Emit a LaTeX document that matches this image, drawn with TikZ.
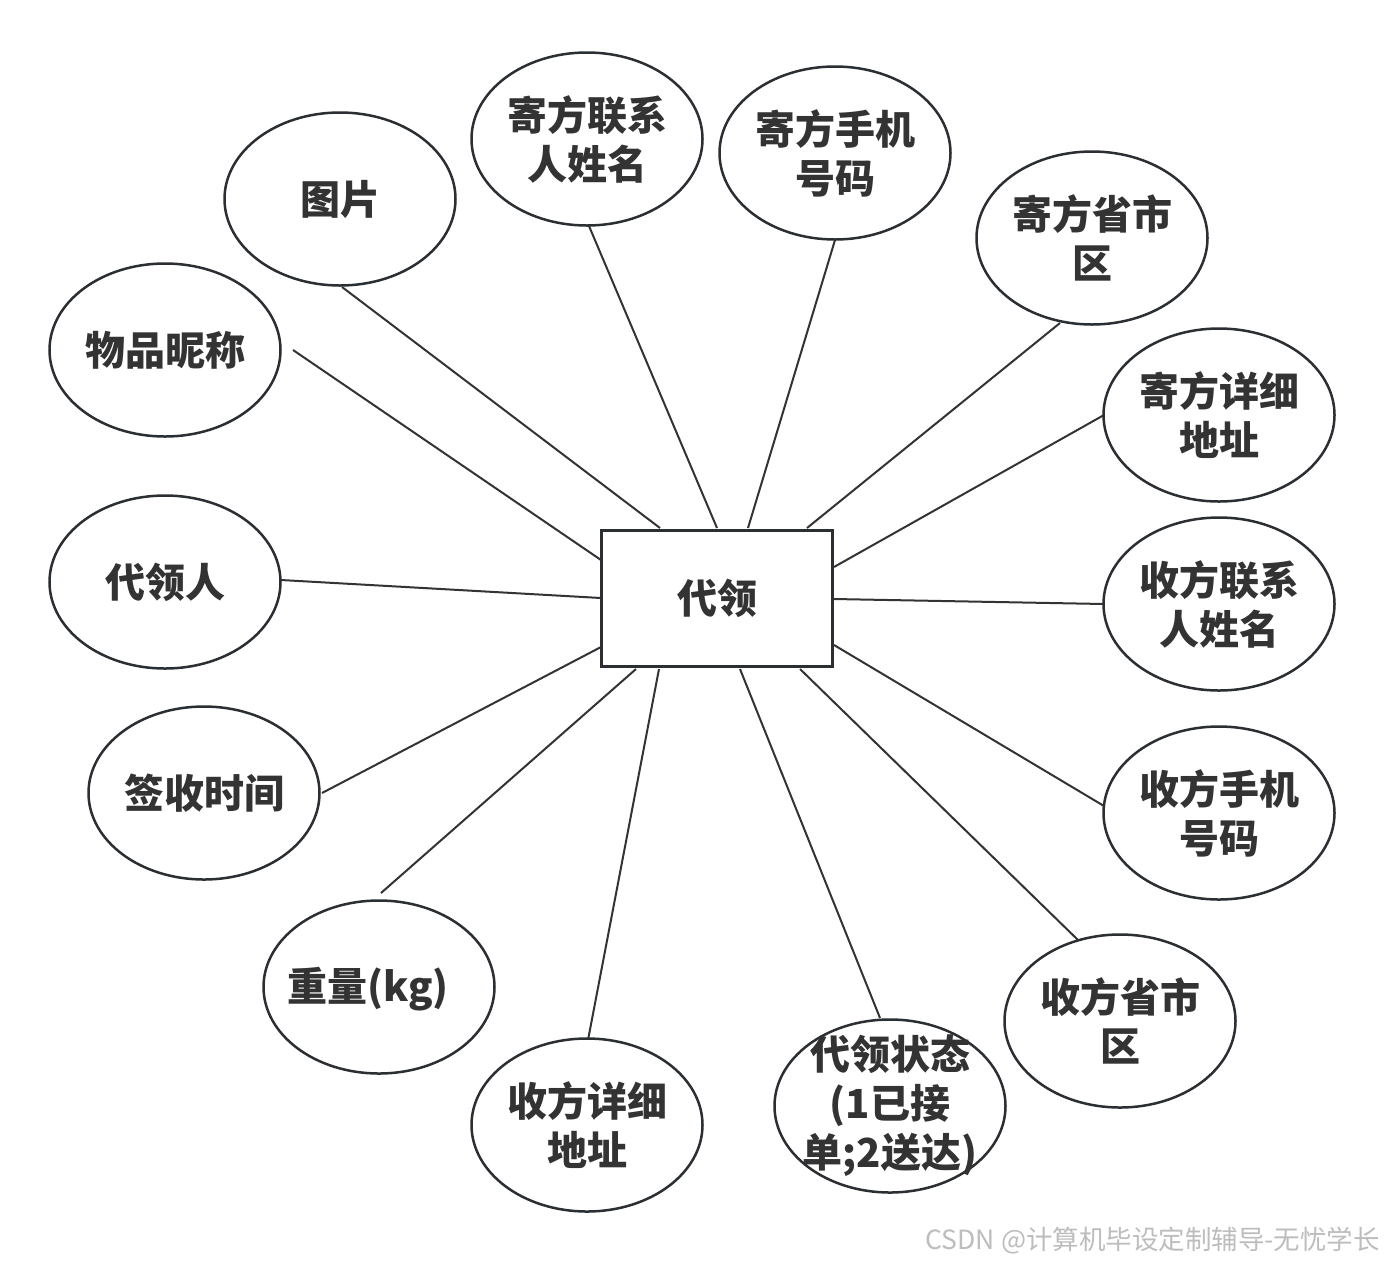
\documentclass[tikz,border=0pt]{standalone}
\usepackage{fontspec}
\usetikzlibrary{shapes.geometric}
\newfontfamily\cjk{Noto Sans CJK SC}
\definecolor{ink}{HTML}{333333}
\definecolor{edge}{HTML}{2B2F33}
\definecolor{wm}{HTML}{BDBDBD}
\tikzset{
  attr/.style={ellipse, draw=edge, line width=2.5pt, fill=white, minimum width=231pt, minimum height=173pt, inner sep=0pt},
  lbl/.style={font=\cjk\bfseries\fontsize{40}{49}\selectfont, text=ink, align=center, inner sep=0pt},
  ent/.style={rectangle, draw=edge, line width=3pt, fill=white, minimum width=231pt, minimum height=136pt, inner sep=0pt},
  conn/.style={draw=ink, line width=2pt}
}
\begin{document}
\begin{tikzpicture}[x=1pt,y=-1pt]
\useasboundingbox[fill=white] (0,0) rectangle (1386,1264);
% connector endpoints
\coordinate (e1) at (342,287);   \coordinate (r1) at (660,528);
\coordinate (e2) at (589,226);   \coordinate (r2) at (717,528);
\coordinate (e3) at (835,240);   \coordinate (r3) at (748,528);
\coordinate (e4) at (1060,323);  \coordinate (r4) at (807,528);
\coordinate (e5) at (1104,415);  \coordinate (r5) at (834,567);
\coordinate (e6) at (1104,604);  \coordinate (r6) at (834,599);
\coordinate (e7) at (1104,806);  \coordinate (r7) at (834,645);
\coordinate (e8) at (1078,940);  \coordinate (r8) at (800,669);
\coordinate (e9) at (880,1018);  \coordinate (r9) at (740,669);
\coordinate (e10) at (588,1040); \coordinate (r10) at (659,669);
\coordinate (e11) at (381,893);  \coordinate (r11) at (636,669);
\coordinate (e12) at (322,793);  \coordinate (r12) at (601,647);
\coordinate (e13) at (281,580);  \coordinate (r13) at (601,598);
\coordinate (e14) at (293,350);  \coordinate (r14) at (601,560);
\foreach \i in {1,...,14} { \draw[conn] (e\i) -- (r\i); }
% entity
\node[ent] (c) at (717,598.5) {};
\node[lbl] (ct) at (c) {代领};
% attributes
\node[attr] (a1) at (340,199) {};
\node[lbl] at (a1) {图片};
\node[attr] (a2) at (587,139) {};
\node[lbl] at (a2) {寄方联系\\人姓名};
\node[attr] (a3) at (835,153) {};
\node[lbl] at (a3) {寄方手机\\号码};
\node[attr] (a4) at (1092,238) {};
\node[lbl] at (a4) {寄方省市\\区};
\node[attr] (a5) at (1219,415) {};
\node[lbl] at (a5) {寄方详细\\地址};
\node[attr] (a6) at (1219,604) {};
\node[lbl] at (a6) {收方联系\\人姓名};
\node[attr] (a7) at (1219,813) {};
\node[lbl] at (a7) {收方手机\\号码};
\node[attr] (a8) at (1120,1021) {};
\node[lbl] at (a8) {收方省市\\区};
\node[attr] (a9) at (890,1106) {};
\node[lbl] at (a9) {代领状态\\(1已接\\单;2送达)};
\node[attr] (a10) at (587,1125) {};
\node[lbl] at (a10) {收方详细\\地址};
\node[attr] (a11) at (379,987) {};
\node[lbl] at (368,989) {重量(kg)};
\node[attr] (a12) at (204,793) {};
\node[lbl] at (a12) {签收时间};
\node[attr] (a13) at (165,582) {};
\node[lbl] at (a13) {代领人};
\node[attr] (a14) at (165,350) {};
\node[lbl] at (a14) {物品昵称};
% watermark
\node[anchor=east, inner sep=0pt, text=wm, font=\cjk\fontsize{26.5}{30}\selectfont] (wmk) at (1380,1241) {CSDN @计算机毕设定制辅导-无忧学长};
\end{tikzpicture}
\end{document}
